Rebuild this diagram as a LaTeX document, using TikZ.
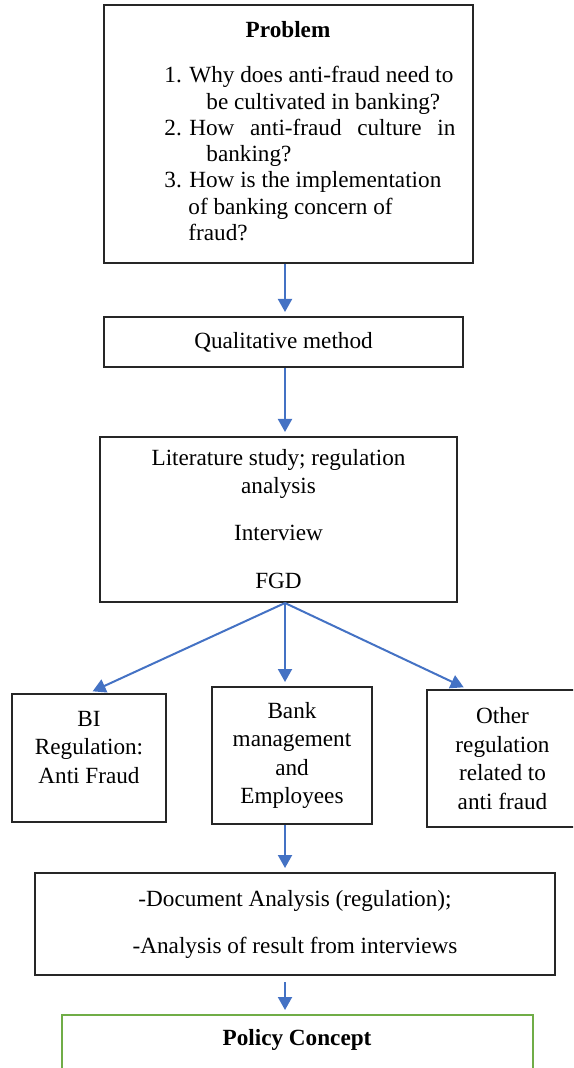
\documentclass[tikz,border=0pt]{standalone}
\usepackage{fontspec}
\setmainfont{Liberation Serif}
\usepackage{tikz}
\usetikzlibrary{arrows.meta,positioning,calc}
\definecolor{flowblue}{HTML}{4472C4}
\definecolor{boxgreen}{HTML}{70AD47}

\begin{document}
\begin{tikzpicture}[x = 0.5pt, y = -0.5pt,
  box/.style = {draw = black!85, line width = 1pt, inner sep = 0pt},
  txt/.style = {font = \fontsize{11.6}{14}\selectfont, inner sep = 0pt, align = center},
  flow/.style = {-{Triangle[length = 6.5pt, width = 7pt]}, draw = flowblue, fill = flowblue, line width = 1pt, shorten > = 2pt}]
\useasboundingbox (0,0) rectangle (573,1068);
\clip (0,0) rectangle (573,1068);
\coordinate (axis) at (285,0);

% problem
\node[box, minimum width = 184.5pt, minimum height = 129pt] (prob) at (288.5,134) {};
\node[txt, anchor = base] (probtitle) at (288,38) {\textbf{Problem}};
\node[txt, anchor = north west, align = left, font = \fontsize{11.6}{13.15}\selectfont] (problist) at (164,66) {\makebox[12.5pt][l]{1.}Why does anti-fraud need to\\
\hspace*{21pt}be cultivated in banking?\\
\makebox[12.5pt][l]{2.}\makebox[133pt][s]{How anti-fraud culture in}\\
\hspace*{21pt}banking?\\
\makebox[12.5pt][l]{3.}How is the implementation\\
\hspace*{12pt}of banking concern of\\
\hspace*{12pt}fraud?};

% method and data
\node[box, txt, minimum width = 179.5pt, minimum height = 25pt] (qual) at (283.5,342) {Qualitative method};
\node[box, txt, minimum width = 178.5pt, minimum height = 82.5pt] (lit) at (278.5,519.5) {Literature study; regulation\\analysis\\[9.5pt]Interview\\[10pt]FGD};

% sources
\node[box, minimum width = 77pt, minimum height = 64pt] (bi) at (89,758) {};
\node[txt, anchor = north, font = \fontsize{11.6}{14.2}\selectfont, below = 9pt of bi.north] (bitext) {BI\\Regulation:\\Anti Fraud};
\node[box, txt, font = \fontsize{11.6}{14.2}\selectfont, minimum width = 80pt, minimum height = 68.5pt] (bank) at (292,755.5) {Bank\\management\\and\\Employees};
\node[box, txt, font = \fontsize{11.6}{14.2}\selectfont, minimum width = 75.5pt, minimum height = 68.5pt] (other) at (502.5,758.5) {Other\\regulation\\related to\\anti fraud};

% analysis and result
\node[box, txt, minimum width = 260pt, minimum height = 51pt] (doc) at (295,924) {-Document Analysis (regulation);\\[9.5pt]-Analysis of result from interviews};
\node[box, draw = boxgreen, minimum width = 235.5pt, minimum height = 42.5pt] (pol) at (297.5,1057.5) {};
\node[txt, anchor = base] (poltitle) at (297,1045) {\textbf{Policy Concept}};

\draw[flow] (prob.south -| axis) -- (qual.north -| axis);
\draw[flow] (qual.south -| axis) -- (lit.north -| axis);
\draw[flow] (lit.south -| axis) -- (bi.north);
\draw[flow] (lit.south -| axis) -- (bank.north -| axis);
\draw[flow] (lit.south -| axis) -- ($(other.north west)!0.27!(other.north east)$);
\draw[flow] (bank.south -| axis) -- (doc.north -| axis);
\draw[flow, shorten < = 3pt] (doc.south -| axis) -- (pol.north -| axis);
\end{tikzpicture}
\end{document}
